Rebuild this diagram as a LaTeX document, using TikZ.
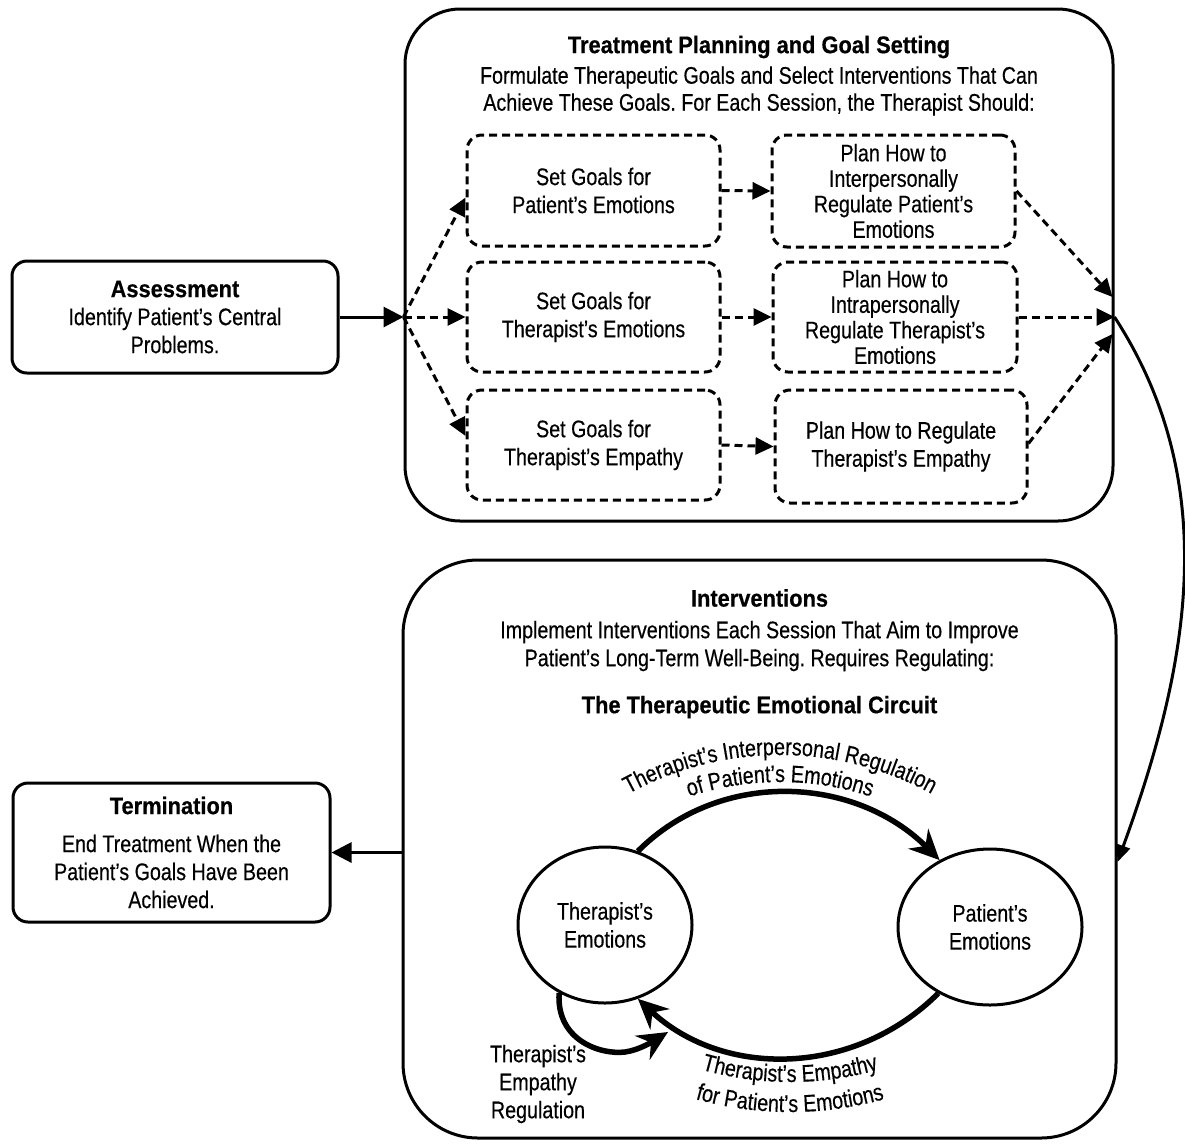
\documentclass[tikz,border=0pt]{standalone}
\usepackage{fontspec}
\setmainfont{Liberation Sans}[FakeStretch=0.82,FakeBold=0.4,BoldFeatures={FakeStretch=0.91,FakeBold=0.5}]
\usetikzlibrary{arrows.meta,shapes.geometric,decorations.text,calc}
\frenchspacing
\begin{document}
\begin{tikzpicture}[x=1pt,y=1pt,
  every node/.style={font=\fontsize{24}{28}\selectfont, align=center, inner sep=0pt},
  mainbox/.style={draw, line width=3pt, rounded corners=15pt},
  bigbox/.style={draw, line width=3pt, rounded corners=#1},
  dbox/.style={draw, line width=3pt, dash pattern=on 8pt off 5pt, rounded corners=15pt},
  planfont/.style={font=\fontsize{24}{25.5}\selectfont},
  sarr/.style={line width=3pt, -{Triangle[length=20pt,width=20pt]}},
  darr/.style={line width=3pt, dash pattern=on 8pt off 5pt, -{Triangle[length=18pt,width=17pt]}},
  carr/.style={line width=5.5pt, -{Stealth[length=30pt,width=28pt,inset=10pt]}},
  emo/.style={draw, ellipse, line width=3pt, minimum width=174pt, minimum height=156pt},
  curvtext/.style={decorate, decoration={text along path, text align=center,
     text={|\fontsize{24}{28}\selectfont|#1}}},
]
\useasboundingbox (0,0) rectangle (1185,-1144);

% ---------- left boxes ----------
\node[mainbox, minimum width=326pt, minimum height=112pt] (as) at (175,-317)
  {\textbf{Assessment}\\Identify Patient’s Central\\Problems.};
\node[mainbox, minimum width=317pt, minimum height=139pt] (tm) at (171.5,-852.5)
  {\textbf{Termination}\\[10pt]End Treatment When the\\Patient’s Goals Have Been\\Achieved.};

% ---------- treatment planning ----------
\node[bigbox=55pt, minimum width=708pt, minimum height=512pt] (tp) at (759,-265) {};
\node (tpt) at (759,-47) {\textbf{Treatment Planning and Goal Setting}};
\node (tpd) at (759,-91) {Formulate Therapeutic Goals and Select Interventions That Can\\[-1pt]Achieve These Goals. For Each Session, the Therapist Should:};

\node[dbox, minimum width=253pt, minimum height=111pt] (g1) at (593.5,-190.5) {Set Goals for\\Patient’s Emotions};
\node[dbox, minimum width=253pt, minimum height=110pt] (g2) at (593.5,-317) {Set Goals for\\Therapist’s Emotions};
\node[dbox, minimum width=253pt, minimum height=110pt] (g3) at (593.5,-445) {Set Goals for\\Therapist’s Empathy};

\node[dbox, planfont, minimum width=243pt, minimum height=112pt] (p1) at (893.5,-191) {Plan How to\\Interpersonally\\Regulate Patient’s\\Emotions};
\node[dbox, planfont, minimum width=244pt, minimum height=110pt] (p2) at (895,-317) {Plan How to\\Intrapersonally\\Regulate Therapist’s\\Emotions};
\node[dbox, minimum width=252pt, minimum height=113pt] (p3) at (901,-446.5) {Plan How to Regulate\\Therapist’s Empathy};

\coordinate (J) at (tp.west |- as.east);
\coordinate (K) at (tp.east |- as.east);
\draw[sarr] (as.east) -- (J);
\draw[darr] (J) -- ($(g1.west)+(0,-7)$);
\draw[darr] (J) -- (g2.west);
\draw[darr] (J) -- ($(g3.west)+(0,9)$);
\draw[darr] (g1.east) -- (p1.west);
\draw[darr] (g2.east) -- (p2.west);
\draw[darr] (g3.east) -- (p3.west);
\draw[darr] (p1.east) -- ($(K)+(-2,20)$);
\draw[darr] (p2.east) -- (K);
\draw[darr] ($(p3.east)+(0,3)$) -- ($(K)+(-2,-17)$);

% ---------- interventions ----------
\node[bigbox=75pt, minimum width=713pt, minimum height=578pt] (iv) at (759.5,-849) {};
\node (ivt) at (759.5,-598) {\textbf{Interventions}};
\node (ivd) at (759.5,-646) {Implement Interventions Each Session That Aim to Improve\\Patient’s Long-Term Well-Being. Requires Regulating:};
\node (ivc) at (759.5,-707) {\textbf{The Therapeutic Emotional Circuit}};

\coordinate (L) at (iv.east |- 0,-862);
\draw[line width=3pt, -{Triangle[length=17pt,width=14pt]}] (K) to[out=-57,in=70,looseness=0.95] (L);
\draw[sarr] (iv.west |- tm.east) -- (tm.east);

% ---------- circuit ----------
\node[emo] (te) at (605,-925) {Therapist’s\\Emotions};
\node[emo, minimum width=184pt] (pe) at (990,-927) {Patient’s\\Emotions};

\draw[carr] (te.66) to[out=45,in=135] (pe.127);
\draw[carr] (pe.232) to[out=225,in=-43] (te.294);
\coordinate (sl) at (668,-1032);
\draw[carr] (te.236) .. controls (556,-1040) and (600,-1055) .. (625,-1052)
  .. controls (640,-1050) and (655,-1040) .. (sl);

\node (sel) at (538,-1084) {Therapist’s\\Empathy\\Regulation};

\path[curvtext={Therapist’s Interpersonal Regulation}]
  (780,-1070) ++(125:315) arc[start angle=125, end angle=55, radius=315];
\path[curvtext={of Patient’s Emotions}]
  (780,-1070) ++(115:288) arc[start angle=115, end angle=65, radius=288];
\path[curvtext={Therapist’s Empathy}]
  (790,-760) ++(245:322) arc[start angle=245, end angle=295, radius=322];
\path[curvtext={for Patient’s Emotions}]
  (790,-760) ++(245:352) arc[start angle=245, end angle=295, radius=352];
\end{tikzpicture}
\end{document}
